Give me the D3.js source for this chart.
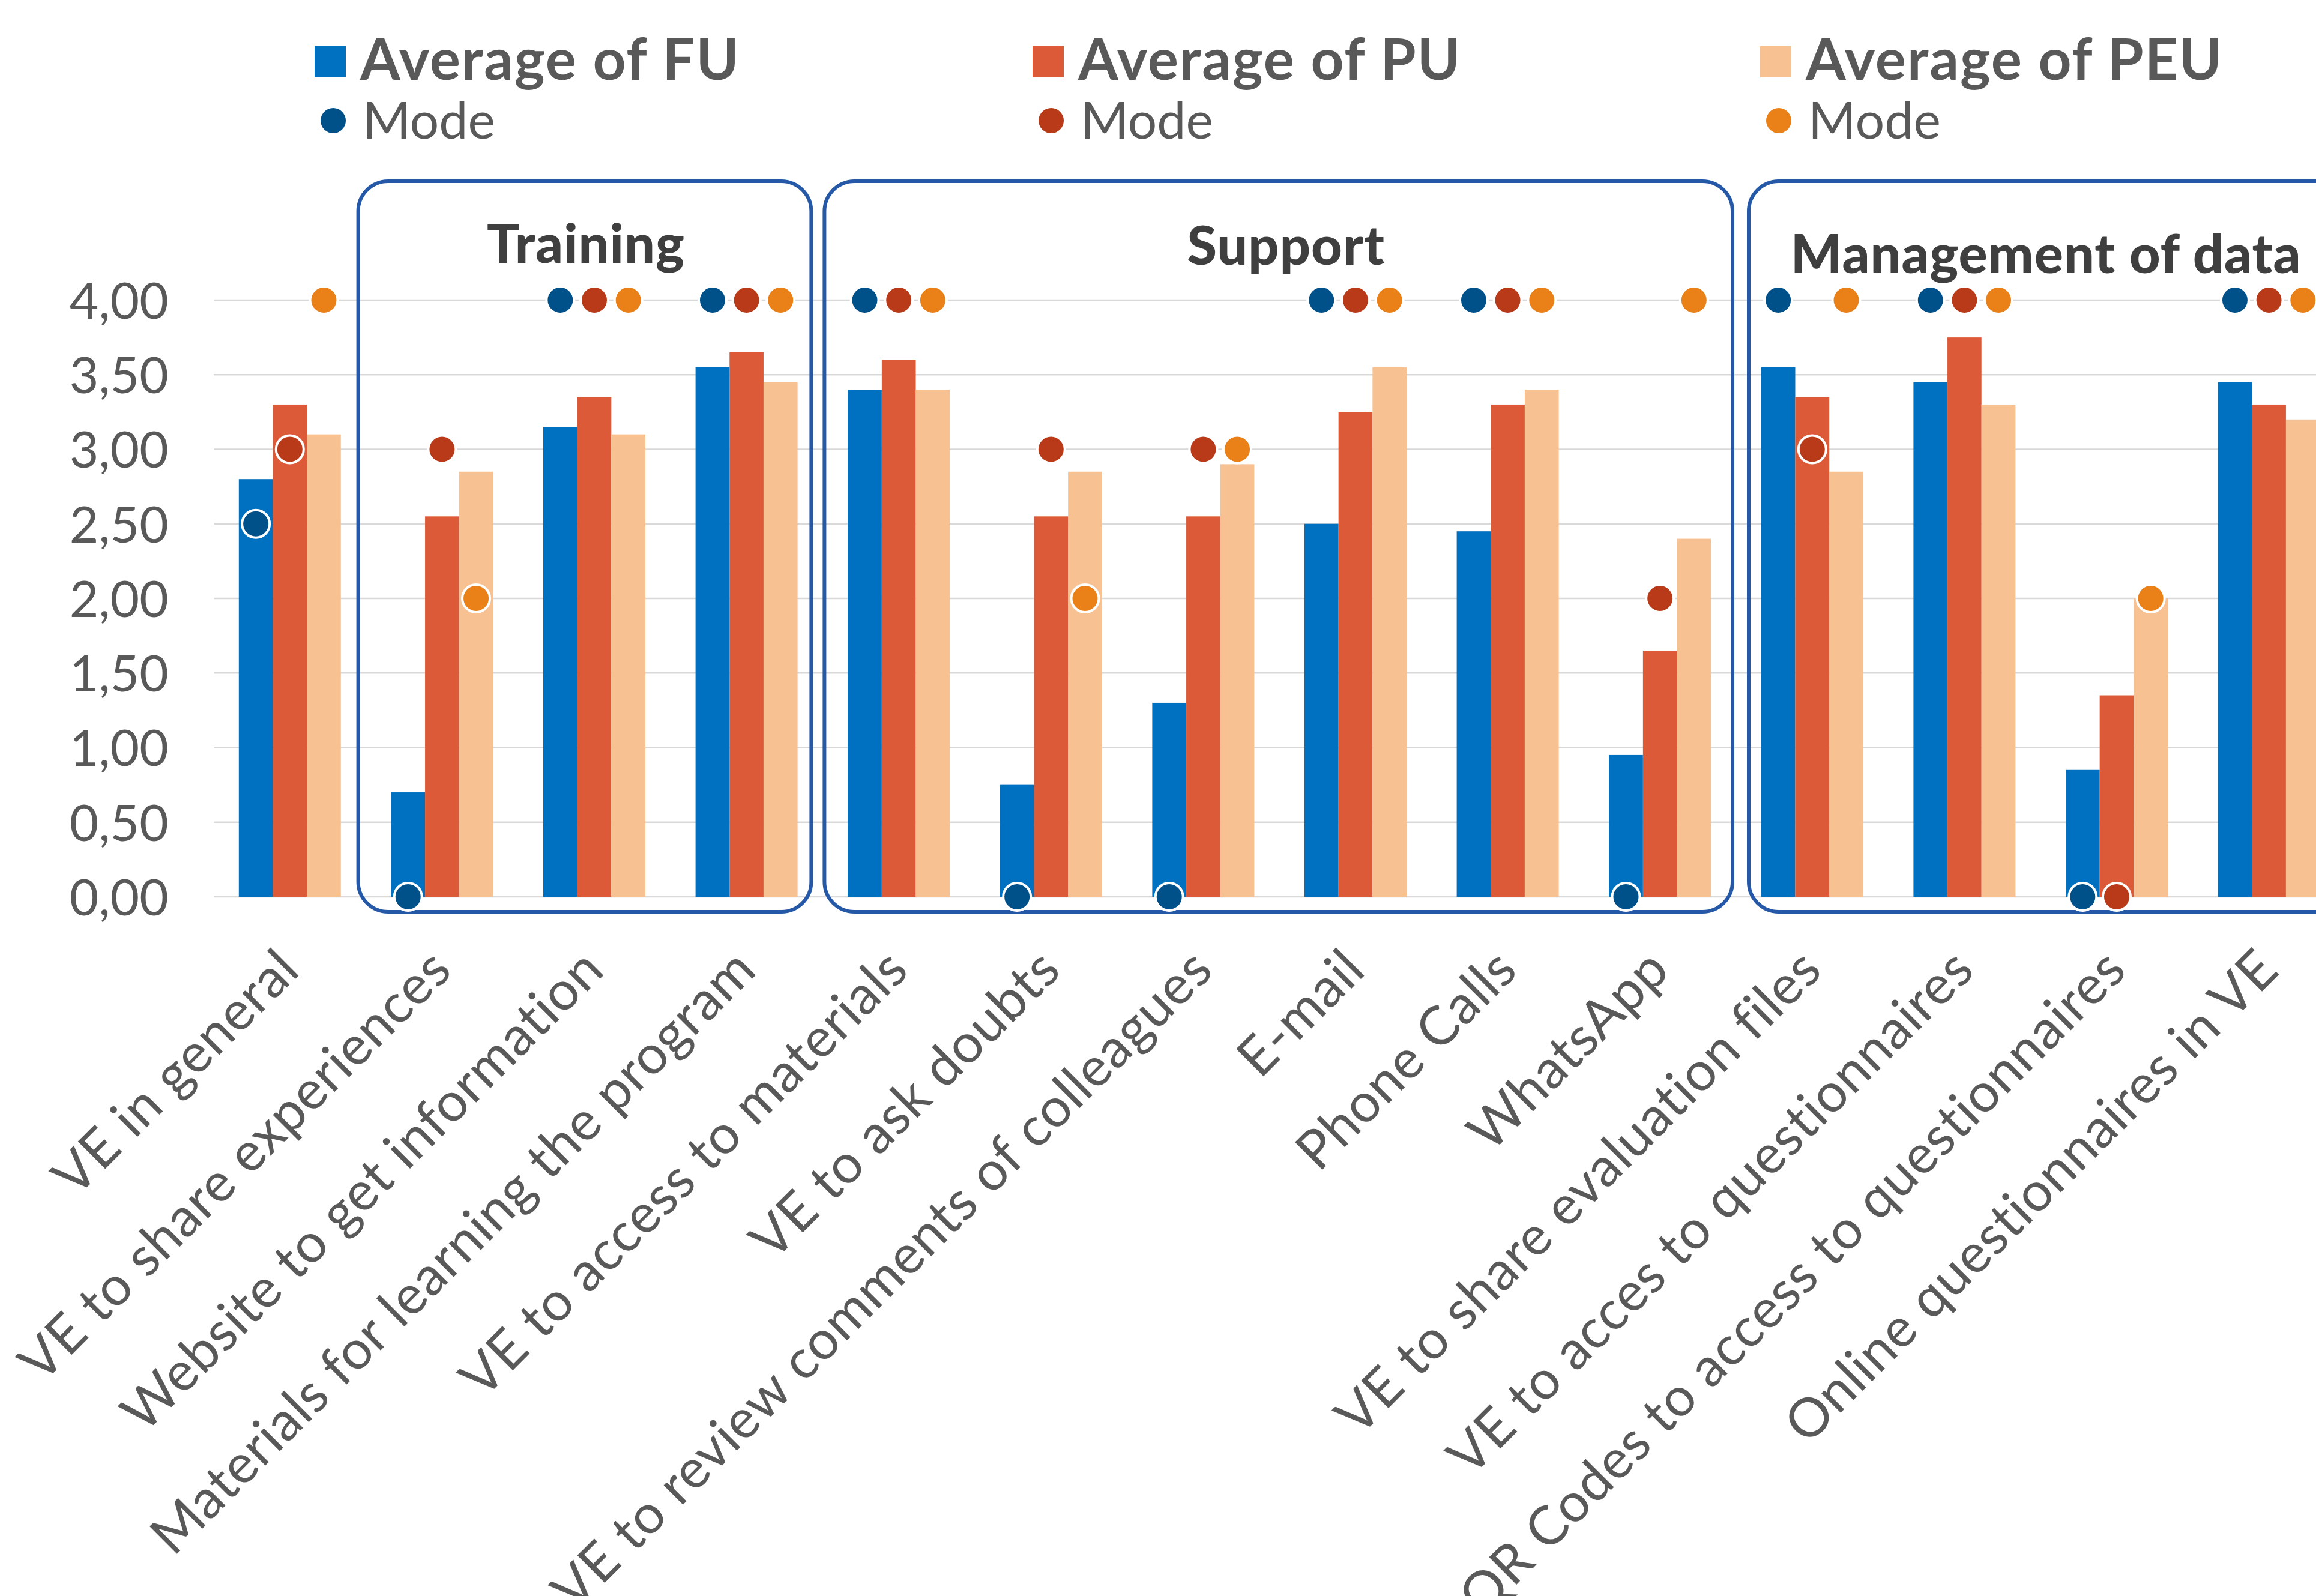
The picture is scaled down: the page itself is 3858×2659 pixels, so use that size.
<!DOCTYPE html>
<html><head><meta charset="utf-8">
<script src="https://cdn.jsdelivr.net/npm/d3@7"></script>
<style>html,body{margin:0;padding:0;background:#fff;overflow:hidden;} svg{display:block;}</style>
</head><body>
<svg id="chart" width="3858" height="2659"></svg>
<script>
// ---------- DATA ----------
const categories = [
  "VE in general",
  "VE to share experiences",
  "Website to get information",
  "Materials for learning the program",
  "VE to access to materials",
  "VE to ask doubts",
  "VE to review comments of colleagues",
  "E-mail",
  "Phone Calls",
  "WhatsApp",
  "VE to share evaluation files",
  "VE to acces to questionnaires",
  "QR Codes to access to questionnaires",
  "Online questionnaires in VE"
];
const seriesNames = ["Average of FU", "Average of PU", "Average of PEU"];
const modeName = "Mode";
const avgFU  = [2.80, 0.70, 3.15, 3.55, 3.40, 0.75, 1.30, 2.50, 2.45, 0.95, 3.55, 3.45, 0.85, 3.45];
const avgPU  = [3.30, 2.55, 3.35, 3.65, 3.60, 2.55, 2.55, 3.25, 3.30, 1.65, 3.35, 3.75, 1.35, 3.30];
const avgPEU = [3.10, 2.85, 3.10, 3.45, 3.40, 2.85, 2.90, 3.55, 3.40, 2.40, 2.85, 3.30, 2.00, 3.20];
const modeFU  = [2.5, 0, 4, 4, 4, 0, 0, 4, 4, 0, 4, 4, 0, 4];
const modePU  = [3,   3, 4, 4, 4, 3, 3, 4, 4, 2, 3, 4, 0, 4];
const modePEU = [4,   2, 4, 4, 4, 2, 3, 4, 4, 4, 4, 4, 2, 4];
const yTicks = [0, 0.5, 1, 1.5, 2, 2.5, 3, 3.5, 4];
const groupNames = ["Training", "Support", "Management of data"];
const groupFirst = [1, 4, 10];
const groupLast  = [3, 9, 13];

// ---------- STYLE / LAYOUT ----------
const barColors  = ["#0070C0", "#DC5A37", "#F8C192"];
const modeColors = ["#00508A", "#B83A18", "#E98018"];
const textColor = "#595959";
const titleColor = "#3F3F3F";
const boxColor = "#2559A7";
const gridColor = "#D9D9D9";
const avgs = [avgFU, avgPU, avgPEU];
const modes = [modeFU, modePU, modePEU];

const svg = d3.select("#chart");
const plotLeft = 356, step = 253.6;
const x = d3.scaleBand().domain(categories)
  .range([plotLeft, plotLeft + step * categories.length]).paddingInner(0).paddingOuter(0);
const groupW = 170;
const x1 = d3.scaleBand().domain(seriesNames)
  .range([(x.bandwidth() - groupW) / 2, (x.bandwidth() + groupW) / 2]).padding(0);
const y = d3.scaleLinear().domain([0, 4]).range([1494, 500]);

const fmt = v => d3.format(".2f")(v).replace(".", ",");

// gridlines
svg.append("g").selectAll("line").data(yTicks).join("line")
  .attr("x1", plotLeft).attr("x2", x.range()[1])
  .attr("y1", d => y(d)).attr("y2", d => y(d))
  .attr("stroke", gridColor).attr("stroke-width", 2.5);

// y axis labels
const yAxis = d3.axisLeft(y).tickValues(yTicks).tickFormat(fmt).tickSize(0).tickPadding(0);
const yg = svg.append("g").attr("transform", "translate(281,0)").call(yAxis);
yg.select(".domain").remove();
yg.selectAll("text").attr("font-family", "Lato, 'Open Sans', sans-serif")
  .attr("font-size", 84).attr("fill", textColor).attr("dy", "0.36em");

// group boxes
const boxInsetL = [-13, 3, 21];
const boxInsetR = [-19, -6, 0];
const titleDx = [-14, 11, 9];
const titleY = [438, 441, 455];
groupNames.forEach((g, i) => {
  const left = x(categories[groupFirst[i]]) + boxInsetL[i];
  const right = x(categories[groupLast[i]]) + x.bandwidth() + boxInsetR[i];
  svg.append("rect")
    .attr("x", left).attr("y", 302).attr("width", right - left).attr("height", 1519 - 302)
    .attr("rx", 50).attr("ry", 50)
    .attr("fill", "none").attr("stroke", boxColor).attr("stroke-width", 6);
  const cx = (x(categories[groupFirst[i]]) + x(categories[groupLast[i]]) + x.bandwidth()) / 2 + titleDx[i];
  svg.append("text").attr("x", cx).attr("y", titleY[i])
    .attr("text-anchor", "middle")
    .attr("font-family", "Lato, sans-serif").attr("font-weight", 900)
    .attr("font-size", 90).attr("letter-spacing", 1)
    .attr("fill", titleColor).text(g);
});

// bars
seriesNames.forEach((s, si) => {
  svg.append("g").selectAll("rect").data(categories).join("rect")
    .attr("x", c => x(c) + x1(s))
    .attr("width", x1.bandwidth())
    .attr("y", (c, i) => y(avgs[si][i]))
    .attr("height", (c, i) => y(0) - y(avgs[si][i]))
    .attr("fill", barColors[si]);
});

// mode dots
seriesNames.forEach((s, si) => {
  svg.append("g").selectAll("circle").data(categories).join("circle")
    .attr("cx", c => x(c) + x1(s) + x1.bandwidth() / 2)
    .attr("cy", (c, i) => y(modes[si][i]))
    .attr("r", 23)
    .attr("fill", modeColors[si]).attr("stroke", "#fff").attr("stroke-width", 4);
});

// x labels
svg.append("g").selectAll("text").data(categories).join("text")
  .attr("transform", c => `translate(${x(c) + x.bandwidth() / 2 + 20},1620) rotate(-45)`)
  .attr("text-anchor", "end")
  .attr("font-family", "Lato, sans-serif").attr("font-size", 90).attr("letter-spacing", 1)
  .attr("fill", textColor).text(c => c);

// legend
const legX = [524, 1720, 2932];
seriesNames.forEach((s, si) => {
  const lg = svg.append("g").attr("transform", `translate(${legX[si]},0)`);
  lg.append("rect").attr("x", 0).attr("y", 77).attr("width", 52).attr("height", 52).attr("fill", barColors[si]);
  lg.append("text").attr("x", 76).attr("y", 133)
    .attr("font-family", "Lato, sans-serif").attr("font-weight", 700).attr("font-size", 96)
    .attr("letter-spacing", 2)
    .attr("fill", textColor).text(s);
  lg.append("circle").attr("cx", 31).attr("cy", 201).attr("r", 21).attr("fill", modeColors[si]);
  lg.append("text").attr("x", 80).attr("y", 231)
    .attr("font-family", "Lato, sans-serif").attr("font-size", 86)
    .attr("fill", textColor).text(modeName);
});
</script>
</body></html>
